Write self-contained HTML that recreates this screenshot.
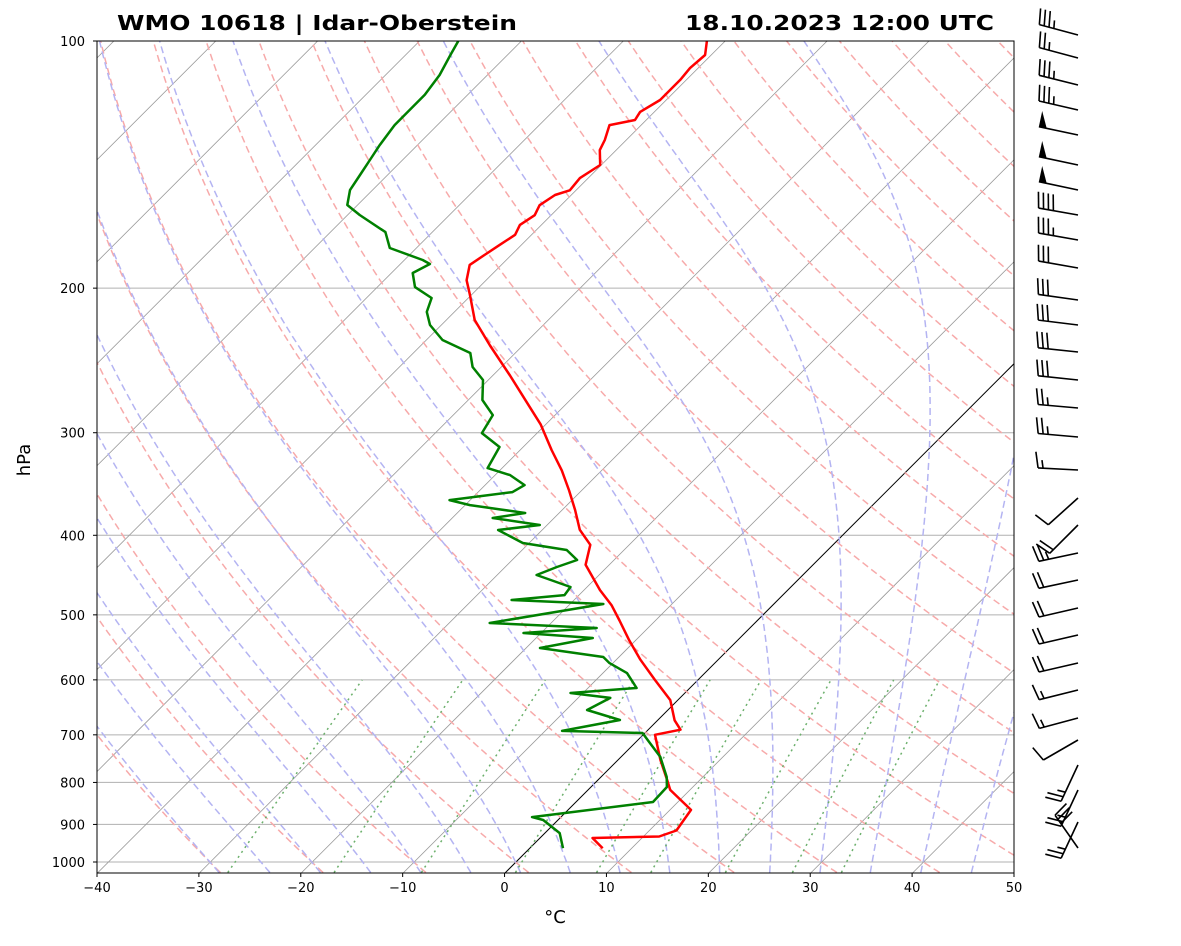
<!DOCTYPE html>
<html><head><meta charset="utf-8"><style>
html,body{margin:0;padding:0;background:#fff;}
svg text{font-family:"DejaVu Sans","Liberation Sans",sans-serif;}
</style></head><body>
<svg id="chart" width="1181" height="941" viewBox="0 0 1181 941" xmlns="http://www.w3.org/2000/svg">
<defs><clipPath id="clip"><rect x="97" y="41" width="917" height="832"/></clipPath></defs>
<rect width="1181" height="941" fill="#fff"/>
<g id="bg" clip-path="url(#clip)"></g>
<g id="series" clip-path="url(#clip)"></g>
<rect x="97" y="41" width="917" height="832" fill="none" stroke="#000" stroke-width="1"/>
<g id="axes"></g>
<g id="barbs"></g>
<text x="117" y="30" font-size="20" font-weight="bold" textLength="400" lengthAdjust="spacingAndGlyphs">WMO 10618 | Idar-Oberstein</text>
<text x="685" y="30" font-size="20" font-weight="bold" textLength="309" lengthAdjust="spacingAndGlyphs">18.10.2023 12:00 UTC</text>
<text x="555" y="923" font-size="18" text-anchor="middle">°C</text>
<text x="30" y="460" font-size="18" text-anchor="middle" transform="rotate(-90 30 460)">hPa</text>
</svg>
<script>
// ---- data ----
const tempP = [100,104,107.9,111.5,118,122,124.8,126.6,132,135.8,141.6,146.9,152,154,158.5,163,167.5,172.2,177,182,187.4,195.6,204,218.7,234.9,255.5,273.6,293,314.9,333.4,352.8,372.6,393.9,410.8,434.5,466.5,486.5,508,537,567,600,635,672,690,700,751,794,817,864,915.5,931,935,962];
const tempT = [-61.8,-60.6,-60.8,-60.6,-60.6,-61.4,-61.1,-63.1,-62.1,-61.6,-60.1,-60.8,-60.6,-61.6,-62.1,-61.6,-62.1,-61.6,-62.1,-62.6,-63.1,-61.9,-60.1,-57.2,-53.2,-48.3,-44.4,-40.5,-36.9,-33.9,-31.2,-28.7,-26.3,-23.8,-22.3,-18.4,-15.8,-13.5,-10.6,-7.6,-4.2,-0.7,1.7,3.2,1.2,4.2,6.8,8.1,12.1,12.7,11.6,5.2,7.2];
const dewP = [100,104,110,116.3,121.4,126.6,133.9,139.6,145.6,151.9,158.4,162.9,170.9,178.7,184.8,186.9,191.7,199.4,205.6,213.8,221.8,231.3,239.9,249.5,258.8,273.7,285.5,300.3,312.3,331.3,337.9,347.5,354.4,362.4,367.5,375.8,381.1,388.6,394.1,408.7,416.9,428.7,437.2,447.1,462.4,473,479.6,485,511.5,518.8,526.1,533.6,548.7,562.8,572.4,588.7,613.8,622.5,631.2,652.9,671.4,692.4,696.4,716.2,744.8,788,810.4,845.2,881.6,889,922.2,962];
const dewT = [-86.2,-85.6,-84.7,-84.2,-84.2,-84.2,-83.7,-83.2,-82.7,-82.2,-81.0,-78.8,-74.6,-72.6,-68.2,-67.1,-67.9,-66.3,-63.6,-62.7,-61.1,-58.4,-54.4,-52.8,-50.5,-48.6,-46.1,-45.4,-42.3,-41.4,-38.5,-36.1,-36.6,-42.0,-39.5,-33.3,-36.0,-30.7,-34.3,-30.6,-25.6,-23.6,-24.9,-26.1,-21.6,-21.4,-26.1,-16.7,-26.0,-15.0,-21.7,-14.4,-18.6,-11.5,-10.3,-7.6,-5.2,-11.2,-6.8,-7.9,-3.7,-8.3,-0.2,1.5,3.9,6.5,7.5,7.6,-2.8,-1.4,1.5,3.3];
const barbY = [35,58,85,110,135,165,190,215,240,268,300,325,352,380,408,437,470,498,525,553,580,608,635,663,690,718,740,765,790,822,848];
const barbSpeed = [35,25,35,35,50,50,50,40,35,30,30,30,30,30,25,25,15,10,20,25,20,20,20,20,15,15,10,25,25,25,30];
const barbDir = [285,285,284,283,282,282,282,280,280,280,278,277,276,276,275,275,273,228,225,258,258,257,257,257,256,255,240,205,205,205,325];
const xTicks = [-40,-30,-20,-10,0,10,20,30,40,50];
const yTicks = [100,200,300,400,500,600,700,800,900,1000];
const mixRatios = [0.0004,0.001,0.002,0.004,0.007,0.01,0.016,0.024,0.032];

// ---- axis functions ----
const X0=97, X1=1014, Y0=41, Y1=873, PX=917/90;
function yOf(p){return Y0+821*Math.log10(p/100);}
function xOf(T,p){return X0+(T+40)*PX+(Y1-yOf(p));}
const NS='http://www.w3.org/2000/svg';
function mk(tag,attrs,parent){const e=document.createElementNS(NS,tag);for(const k in attrs)e.setAttribute(k,attrs[k]);parent.appendChild(e);return e;}
const bg=document.getElementById('bg'), ser=document.getElementById('series'), ax=document.getElementById('axes'), bb=document.getElementById('barbs');
function pathFrom(pts){return pts.map((q,i)=>(i?'L':'M')+q[0].toFixed(1)+','+q[1].toFixed(1)).join(' ');}
const pGrid=[]; for(let p=1030;p>=100;p-=5)pGrid.push(p);

yTicks.forEach(p=>{const l=mk('line',{x1:X0,x2:X1,y1:yOf(p),y2:yOf(p),stroke:'#b0b0b0','stroke-width':1},bg);

});
for(let T=-150;T<=50;T+=10){const l=mk('line',{x1:xOf(T,1030),y1:Y1,x2:xOf(T,100),y2:Y0,stroke:T===0?'#000':'#999','stroke-width':T===0?1:0.8},bg);

}
for(let t0=-30;t0<=200;t0+=10){const th=t0+273.15;const pts=pGrid.map(p=>[xOf(th*Math.pow(p/1000,0.2857)-273.15,p),yOf(p)]);
const e=mk('path',{d:pathFrom(pts),fill:'none',stroke:'#f7aaaa','stroke-width':1.5,'stroke-dasharray':'7,4'},bg);

}
function es(T){return 6.112*Math.exp(17.67*T/(T+243.5));}
function dTdp(T,p){const Tk=T+273.15;const e=es(T);const rs=0.622*e/(p-e);return (287.04*Tk+2.501e6*rs)/(p*(1005.7+2.501e6*2.501e6*rs*0.622/(287.04*Tk*Tk)));}
function moist(t0){const up=[],dn=[];let T=t0;for(let p=1000;p>=100;p-=5){up.push([p,T]);const k1=dTdp(T,p);const k2=dTdp(T-5*k1,p-5);T-=2.5*(k1+k2);}
T=t0;for(let p=1000;p<=1030;p+=5){dn.push([p,T]);const k1=dTdp(T,p);T+=5*k1;}
return dn.reverse().concat(up);}
for(let t0=-30;t0<=45;t0+=5){const pts=moist(t0).map(q=>[xOf(q[1],q[0]),yOf(q[0])]);
const e=mk('path',{d:pathFrom(pts),fill:'none',stroke:'#b4b4f2','stroke-width':1.5,'stroke-dasharray':'7,4'},bg);

}
mixRatios.forEach(w=>{const pts=[];for(let p=1030;p>=600;p-=10){const e=p*w/(0.622+w);const L=Math.log(e/6.112);const Td=243.5*L/(17.67-L);pts.push([xOf(Td,p),yOf(p)]);}
const e=mk('path',{d:pathFrom(pts),fill:'none',stroke:'#6cb06c','stroke-width':1.5,'stroke-dasharray':'2,4'},bg);

});
const tp=mk('path',{d:pathFrom(tempP.map((p,i)=>[xOf(tempT[i],p),yOf(p)])),fill:'none',stroke:'#ff0000','stroke-width':2.5,'stroke-linejoin':'round'},ser);


const dp=mk('path',{d:pathFrom(dewP.map((p,i)=>[xOf(dewT[i],p),yOf(p)])),fill:'none',stroke:'#008000','stroke-width':2.5,'stroke-linejoin':'round'},ser);


xTicks.forEach(T=>{const x=X0+(T+40)*PX;mk('line',{x1:x,x2:x,y1:Y1,y2:Y1+4,stroke:'#000'},ax);
const t=mk('text',{x:x,y:Y1+19,'font-size':13,'text-anchor':'middle'},ax);t.textContent=(T<0?'\u2212'+(-T):T);

});
yTicks.forEach(p=>{const y=yOf(p);mk('line',{x1:X0-4,x2:X0,y1:y,y2:y,stroke:'#000'},ax);
const t=mk('text',{x:X0-12,y:y+5,'font-size':13,'text-anchor':'end'},ax);t.textContent=p;

});
barbY.forEach((y,i)=>{const d=barbDir[i]*Math.PI/180;const sx=Math.sin(d),sy=-Math.cos(d);const px=-sy,py=sx;
const bx=1078,L=40;const g=mk('g',{},bb);


mk('line',{x1:bx,y1:y,x2:bx+sx*L,y2:y+sy*L,stroke:'#000','stroke-width':1.6},g);
let s=Math.round(barbSpeed[i]/5)*5;let pos=L;
while(s>=50){const ax0=bx+sx*pos,ay0=y+sy*pos,bx1=bx+sx*(pos-8),by1=y+sy*(pos-8);
mk('polygon',{points:`${ax0},${ay0} ${ax0+px*16},${ay0+py*16} ${bx1},${by1}`,fill:'#000'},g);pos-=10;s-=50;}
while(s>=10){const ax0=bx+sx*pos,ay0=y+sy*pos;mk('line',{x1:ax0,y1:ay0,x2:ax0+px*16+sx*3,y2:ay0+py*16+sy*3,stroke:'#000','stroke-width':1.6},g);pos-=5;s-=10;}
if(s>=5){if(pos===L)pos-=5;const ax0=bx+sx*pos,ay0=y+sy*pos;mk('line',{x1:ax0,y1:ay0,x2:ax0+px*8+sx*1.5,y2:ay0+py*8+sy*1.5,stroke:'#000','stroke-width':1.6},g);}
});
</script>
</body></html>
